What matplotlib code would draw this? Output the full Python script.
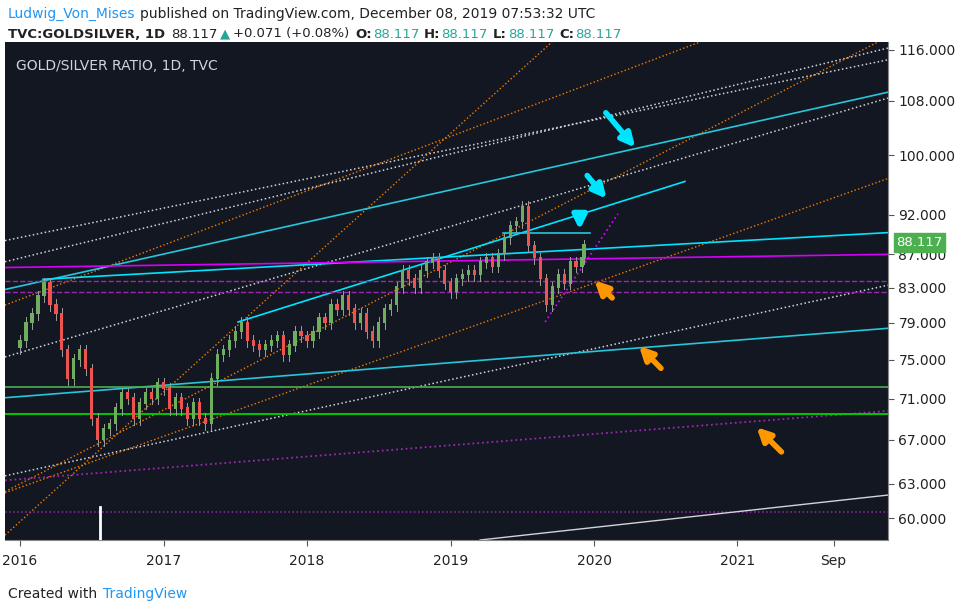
import matplotlib
matplotlib.use("Agg")
import matplotlib.pyplot as plt
from matplotlib.ticker import FixedLocator, NullLocator, FixedFormatter

# semi-monthly closes (decimal-year positions)
closes = [
 77, 79, 80, 82, 83.5, 81, 80, 76, 73, 75, 76, 74, 69, 67, 68, 68.5, 70, 71.5, 71, 69, 70.5, 71.5, 71, 72.5,
 72, 70, 71, 70, 69, 70.5, 69, 68.5, 73, 75.5, 76, 77, 78, 79, 77, 76.5, 76, 76.5, 77, 77.5, 75.5, 76.5, 78, 77.5,
 77, 78, 79.5, 79, 81, 80.5, 82, 80.5, 79, 80, 78, 77, 79, 80.5, 81, 83, 85, 84, 83, 85, 86, 86.5, 85, 83.5,
 82.5, 84, 84.5, 85, 84.5, 86, 86.5, 85.5, 87, 89, 90.5, 91, 93, 88, 86.5, 84, 81, 83, 84.5, 83.5, 86, 85.5, 86.5, 88.117]
dates = [2016 + i / 24 for i in range(len(closes) - 1)] + [2019.93]

y_ticks = [116, 108, 100, 92, 87, 83, 79, 75, 71, 67, 63, 60]
x_ticks = [2016, 2017, 2018, 2019, 2020, 2021, 2021.67]
x_labels = ["2016", "2017", "2018", "2019", "2020", "2021", "Sep"]

# drawn trend lines: (x0, v0, x1, v1, colour, style, width)
lines = [
 (2015.895, 88.7, 2022.049, 114.4, "#d1d4dc", ":", 1.1),
 (2015.895, 86.1, 2022.049, 116.3, "#d1d4dc", ":", 1.1),
 (2015.895, 75.3, 2022.049, 108.4, "#d1d4dc", ":", 1.1),
 (2015.895, 63.7, 2022.049, 83.3, "#d1d4dc", ":", 1.1),
 (2015.895, 81.0, 2020.739, 117.3, "#f57c00", ":", 1.0),
 (2015.895, 62.3, 2021.979, 117.3, "#f57c00", ":", 1.0),
 (2015.895, 62.2, 2022.049, 96.8, "#f57c00", ":", 1.0),
 (2015.895, 58.6, 2019.707, 117.3, "#f57c00", ":", 1.0),
 (2015.895, 82.8, 2022.049, 109.3, "#26c6da", "-", 1.2),
 (2015.895, 71.1, 2022.049, 78.4, "#26c6da", "-", 1.2),
 (2017.519, 79.1, 2020.634, 96.4, "#00e5ff", "-", 1.2),
 (2016.160, 84.0, 2022.049, 89.7, "#00e5ff", "-", 1.2),
 (2019.366, 89.6, 2019.972, 89.6, "#26c6da", "-", 1.2),
 (2015.895, 85.4, 2022.049, 87.0, "#d500f9", "-", 1.2),
 (2015.895, 83.8, 2022.049, 83.8, "#9c27b0", "--", 1.0),
 (2015.895, 82.5, 2022.049, 82.5, "#9c27b0", "--", 1.0),
 (2015.895, 63.3, 2022.049, 69.8, "#9c27b0", ":", 1.3),
 (2015.895, 60.5, 2022.049, 60.5, "#9c27b0", ":", 1.1),
 (2019.659, 79.1, 2020.167, 92.1, "#d500f9", ":", 1.3),
 (2015.895, 72.2, 2022.049, 72.2, "#4caf50", "-", 1.2),
 (2015.895, 69.5, 2022.049, 69.5, "#00c800", "-", 1.4),
 (2019.206, 58.2, 2022.049, 62.0, "#d1d4dc", "-", 1.0),
]
# arrows: (tail_x, tail_v, head_x, head_v, colour)
arrows = [
 (2020.07, 106.5, 2020.30, 100.8, "#00e5ff"),
 (2019.94, 97.5, 2020.10, 93.8, "#00e5ff"),
 (2019.90, 92.3, 2019.90, 89.7, "#00e5ff"),
 (2020.14, 81.6, 2019.99, 84.1, "#ff9800"),
 (2020.48, 73.9, 2020.30, 76.7, "#ff9800"),
 (2021.32, 65.7, 2021.12, 68.4, "#ff9800"),
]

BG = "#131722"
fig = plt.figure(figsize=(9.63, 6.13), dpi=100)
fig.patch.set_facecolor("white")
ax = fig.add_axes([5/963, 73/613, 883/963, 498/613])
ax.set_facecolor(BG)
ax.set_yscale("log")
ax.set_xlim(2015.895, 2022.049)
ax.set_ylim(58.2, 117.3)

for x0, v0, x1, v1, c, ls, lw in lines:
    ax.plot([x0, x1], [v0, v1], color=c, ls=ls, lw=lw, zorder=2)

prev = closes[0] * 0.99
for d, c in zip(dates, closes):
    up = c >= prev
    col = "#6fae5f" if up else "#ef5350"
    ax.plot([d, d], [min(prev, c) * 0.992, max(prev, c) * 1.008], color="#9e9e9e", lw=0.7, zorder=3)
    ax.bar(d, abs(c - prev) + 0.15, bottom=min(prev, c), width=0.022, color=col, zorder=4, lw=0)
    prev = c

ax.plot([2016.56, 2016.56], [58.2, 61.0], color="white", lw=2, zorder=3)

for tx, tv, hx, hv, c in arrows:
    ax.annotate("", xy=(hx, hv), xytext=(tx, tv),
                arrowprops=dict(arrowstyle="-|>", color=c, lw=4, mutation_scale=20), zorder=6)

ax.yaxis.tick_right()
ax.yaxis.set_major_locator(FixedLocator(y_ticks))
ax.yaxis.set_minor_locator(NullLocator())
ax.yaxis.set_major_formatter(FixedFormatter([f"{v:.3f}" for v in y_ticks]))
ax.set_xticks(x_ticks)
ax.set_xticklabels(x_labels)
ax.tick_params(axis="both", colors="#555555", labelsize=10, length=4, labelcolor="#222222")
ax.tick_params(axis="x", pad=6)
for s in ["top", "left"]:
    ax.spines[s].set_visible(False)
ax.spines["right"].set_color("#888888")
ax.spines["bottom"].set_color("#888888")

ax.annotate("88.117", xy=(1.0, 88.117), xycoords=("axes fraction", "data"),
            xytext=(6, 2), textcoords="offset points", va="center", ha="left",
            fontsize=9.5, color="white", zorder=10,
            bbox=dict(boxstyle="square,pad=0.2", fc="#4caf50", ec="#4caf50"))

ax.text(0.012, 0.965, "GOLD/SILVER RATIO, 1D, TVC", transform=ax.transAxes,
        color="#d1d4dc", fontsize=10, va="top")

renderer = fig.canvas.get_renderer()

def chain(parts, x_px, y_px, size=10):
    x = x_px
    for txt, col, bold, gap in parts:
        t = fig.text(x / 963, 1 - y_px / 613, txt, color=col, fontsize=size, va="center",
                     fontweight="bold" if bold else "normal")
        w = t.get_window_extent(renderer).width
        x += w + gap

DK = "#222222"; TL = "#26a69a"
chain([("Ludwig_Von_Mises", "#2196f3", False, 4),
       ("published on TradingView.com, December 08, 2019 07:53:32 UTC", DK, False, 0)], 8, 14)
chain([("TVC:GOLDSILVER, 1D", DK, True, 6), ("88.117", DK, False, 2), ("\u25B2", TL, False, 3),
       ("+0.071 (+0.08%)", DK, False, 6),
       ("O:", DK, True, 1), ("88.117", TL, False, 5), ("H:", DK, True, 1), ("88.117", TL, False, 5),
       ("L:", DK, True, 1), ("88.117", TL, False, 5), ("C:", DK, True, 1), ("88.117", TL, False, 0)],
      8, 34, size=9.5)
chain([("Created with", DK, False, 6), ("TradingView", "#2196f3", False, 0)], 8, 594)

fig.savefig("out.png", dpi=100, facecolor=fig.get_facecolor())
